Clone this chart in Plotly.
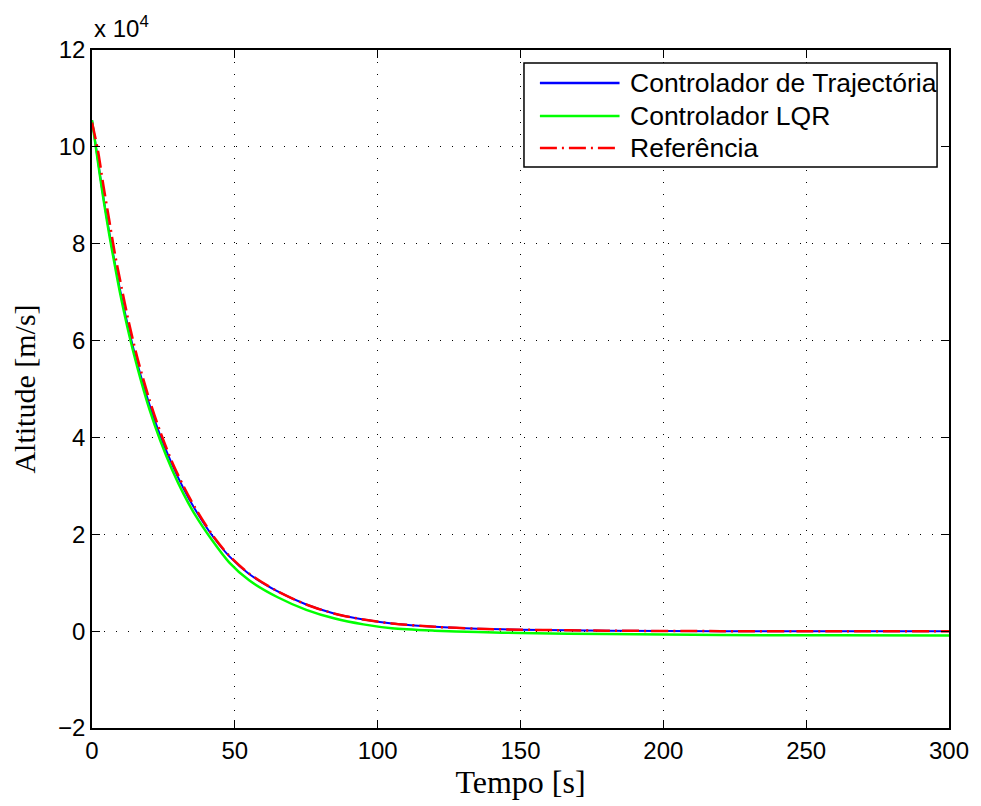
import plotly.graph_objects as go

# time samples [s]
tempo = [0, 2, 4, 6, 8, 10, 13, 16, 20, 24, 28, 32, 36, 42, 48, 55, 65, 75, 85,
         95, 105, 120, 135, 150, 180, 220, 260, 300]

# altitude values in units of 1e4
trajectoria = [10.55, 9.75, 8.95, 8.25, 7.6, 7.0, 6.2, 5.5, 4.7, 4.02, 3.45, 2.95, 2.52,
               1.98, 1.55, 1.18, 0.82, 0.55, 0.36, 0.24, 0.16, 0.09, 0.05, 0.03, 0.01,
               0.0, 0.0, 0.0]
lqr = [10.55, 9.72, 8.92, 8.2, 7.55, 6.93, 6.12, 5.42, 4.6, 3.92, 3.34, 2.84, 2.41,
       1.88, 1.42, 1.05, 0.7, 0.44, 0.26, 0.14, 0.06, 0.01, -0.02, -0.04, -0.06,
       -0.08, -0.085, -0.09]
referencia = [10.5, 9.95, 9.2, 8.5, 7.8, 7.2, 6.35, 5.62, 4.8, 4.1, 3.5, 3.0, 2.56,
              2.0, 1.56, 1.19, 0.82, 0.55, 0.36, 0.24, 0.16, 0.09, 0.05, 0.03, 0.01,
              0.0, 0.0, 0.0]

series_names = ["Controlador de Trajectória", "Controlador LQR", "Referência"]
series_colors = ["#0000ff", "#00ff00", "#ff0000"]
series_dash = ["solid", "solid", "17px,5px,2px,5px"]
series_width = [2, 2.5, 2.5]

x_ticks = [0, 50, 100, 150, 200, 250, 300]
y_ticks = [-2, 0, 2, 4, 6, 8, 10, 12]

fig = go.Figure()
for name, vals, col, dash, w in zip(series_names, [trajectoria, lqr, referencia],
                                     series_colors, series_dash, series_width):
    fig.add_trace(go.Scatter(x=tempo, y=vals, mode="lines", name=name,
                             line=dict(color=col, width=w, dash=dash, shape="spline",
                                       smoothing=0.8)))

axis_common = dict(showline=True, linecolor="black", linewidth=1.5, mirror="ticks",
                   ticks="inside", ticklen=8, tickwidth=1, tickcolor="black",
                   showgrid=True, gridcolor="black", gridwidth=1,
                   griddash="1px,11px", zeroline=False,
                   tickfont=dict(family="Liberation Sans, Arial", size=24, color="black"))

fig.update_layout(
    width=981, height=806,
    margin=dict(l=92, r=28, t=50, b=78),
    paper_bgcolor="white", plot_bgcolor="white",
    showlegend=False,
    xaxis=dict(range=[0, 300], tickvals=x_ticks,
               title=dict(text="Tempo [s]", standoff=8,
                          font=dict(family="Liberation Serif, Times New Roman", size=32,
                                    color="black")),
               **axis_common),
    yaxis=dict(range=[-2, 12], tickvals=y_ticks,
               title=dict(text="Altitude [m/s]", standoff=14,
                          font=dict(family="Liberation Serif, Times New Roman", size=30,
                                    color="black")),
               **axis_common),
)

# exponent label
fig.add_annotation(xref="paper", yref="paper", x=0, y=1, xanchor="left", yanchor="bottom",
                   yshift=6, showarrow=False, text="x 10<sup>4</sup>",
                   font=dict(family="Liberation Sans, Arial", size=24, color="black"))

# manual legend (MATLAB style long line samples)
def px(x):
    return (x - 92) / 861.0

def py(y):
    return (728 - y) / 678.0

fig.add_shape(type="rect", xref="paper", yref="paper", x0=px(526), x1=px(941),
              y0=py(167), y1=py(63), line=dict(color="black", width=1.5),
              fillcolor="white", layer="above")
rows = [83, 116, 148]
for name, col, dash, w, yy in zip(series_names, series_colors, series_dash, series_width, rows):
    fig.add_shape(type="line", xref="paper", yref="paper", x0=px(542), x1=px(622),
                  y0=py(yy), y1=py(yy), line=dict(color=col, width=2.5, dash=dash),
                  layer="above")
    fig.add_annotation(xref="paper", yref="paper", x=px(630), y=py(yy), xanchor="left",
                       yanchor="middle", showarrow=False, text=name,
                       font=dict(family="Liberation Sans, Arial", size=26.5, color="black"))

fig.write_html("out.html")
